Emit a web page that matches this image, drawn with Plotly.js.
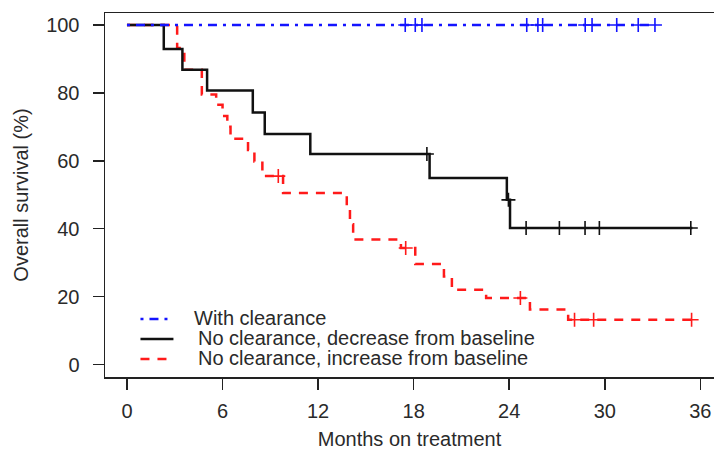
<!DOCTYPE html>
<html>
<head>
<meta charset="utf-8">
<script src="https://cdn.plot.ly/plotly-3.0.1.min.js"></script>
<style>html,body{margin:0;padding:0;background:#fff;}#chart{width:714px;height:450px;}</style>
</head>
<body>
<div id="chart"></div>
<script>
// ---- data (months, overall survival %) ----
const xTicks = [0, 6, 12, 18, 24, 30, 36];
const yTicks = [0, 20, 40, 60, 80, 100];

const seriesNames = ["With clearance", "No clearance, decrease from baseline", "No clearance, increase from baseline"];

// With clearance: no events
const blueEventTimes = [];
const blueEventValues = [];
const blueCensor = [17.47, 18.1, 18.52, 25.1, 25.8, 26.1, 28.77, 29.2, 30.75, 32.1, 33.15];
const blueEnd = 33.15;

// No clearance, decrease from baseline
const blackEventTimes = [2.31, 3.48, 5.03, 7.9, 8.65, 11.51, 19.0, 23.85, 24.05];
const blackEventValues = [92.9, 86.8, 80.7, 74.2, 67.9, 62.0, 54.9, 48.5, 40.2];
const blackCensor = [18.83, 23.95, 25.06, 27.15, 28.76, 29.66, 35.4];
const blackEnd = 35.5;

// No clearance, increase from baseline
const redEventTimes = [3.15, 3.6, 4.7, 5.6, 6.0, 6.3, 6.5, 7.6, 8.0, 8.5, 9.8, 13.8, 14.0, 14.2, 17.2, 18.1, 19.9, 20.4, 22.55, 25.3, 27.7];
const redEventValues = [93.2, 86.8, 79.5, 76.5, 73.2, 70.0, 66.5, 63.2, 59.8, 55.5, 50.5, 45.9, 41.3, 36.8, 34.3, 29.6, 25.9, 22.0, 19.6, 16.2, 13.2];
const redCensor = [9.5, 17.5, 24.7, 28.1, 29.3, 35.45];
const redEnd = 35.55;

// ---- helpers ----
function stepXY(times, vals, end) {
  const last = vals.length ? vals[vals.length - 1] : 100;
  return { x: [0].concat(times, [end]), y: [100].concat(vals, [last]) };
}
function survAt(times, vals, t) {
  let v = 100;
  for (let i = 0; i < times.length; i++) if (times[i] <= t) v = vals[i];
  return v;
}

const colors = { blue: "#1414ff", black: "#111111", red: "#ff1a1a" };
const dashes = { blue: "3px,6px,9px,6px", black: "solid", red: "9px,8px" };

function curve(times, vals, end, censor, col, name) {
  const s = stepXY(times, vals, end);
  return [
    { type: "scatter", mode: "lines", x: s.x, y: s.y, name: name, showlegend: false,
      line: { shape: "hv", color: colors[col], width: 2.5, dash: dashes[col] }, hoverinfo: "skip" },
    { type: "scatter", mode: "markers", x: censor, y: censor.map(t => survAt(times, vals, t)),
      showlegend: false, name: name + " (censored)",
      marker: { symbol: "cross-thin-open", size: 10, color: colors[col], line: { color: colors[col], width: 1.6 } } }
  ];
}

const data = [].concat(
  curve(redEventTimes, redEventValues, redEnd, redCensor, "red", seriesNames[2]),
  curve(blackEventTimes, blackEventValues, blackEnd, blackCensor, "black", seriesNames[1]),
  curve(blueEventTimes, blueEventValues, blueEnd, blueCensor, "blue", seriesNames[0])
);

// ---- layout geometry (pixels) ----
const W = 714, H = 450;
const mL = 104.5, mR = 0, mT = 13, mB = 72.5;
const pw = W - mL - mR, ph = H - mT - mB;
const px2x = p => (p - mL) / pw;
const py2y = p => (H - mB - p) / ph;

const fontFam = "Liberation Sans, Arial, Helvetica, sans-serif";
const txtCol = "#2a2a2a";

// manual legend (R style, tight rows)
const legendRows = [
  { col: "blue", y: 318.5 },
  { col: "black", y: 338.5 },
  { col: "red", y: 358.5 }
];
const legendTextX = [192, 196, 196];
const shapes = legendRows.map(r => ({
  type: "line", xref: "paper", yref: "paper",
  x0: px2x(140), x1: px2x(r.col === "black" ? 173 : 170), y0: py2y(r.y + 1), y1: py2y(r.y + 1),
  line: { color: colors[r.col], width: 2.5, dash: dashes[r.col] }
}));
const annotations = legendRows.map((r, i) => ({
  xref: "paper", yref: "paper", x: px2x(legendTextX[i]), y: py2y(r.y),
  xanchor: "left", yanchor: "middle", showarrow: false,
  text: seriesNames[i], font: { family: fontFam, size: 20, color: txtCol }
}));

const layout = {
  width: W, height: H,
  margin: { l: mL, r: mR, t: mT, b: mB, pad: 0 },
  paper_bgcolor: "#ffffff", plot_bgcolor: "#ffffff",
  showlegend: false,
  font: { family: fontFam, color: txtCol },
  xaxis: {
    range: [(mL - 126.5) / 15.94, (W - 126.5) / 15.94],
    tickvals: xTicks, ticktext: xTicks.map(String),
    ticks: "outside", ticklen: 11, tickwidth: 1.5, tickcolor: "#222",
    showline: true, linecolor: "#222", linewidth: 1.5, mirror: true,
    showgrid: false, zeroline: false,
    tickfont: { family: fontFam, size: 20, color: txtCol },
    ticklabelstandoff: 4,
    title: { text: "Months on treatment", font: { family: fontFam, size: 20, color: txtCol }, standoff: 12 }
  },
  yaxis: {
    range: [-(H - mB - 365) / 3.4, (365 - mT) / 3.4],
    tickvals: yTicks, ticktext: yTicks.map(String),
    ticks: "outside", ticklen: 11, tickwidth: 1.5, tickcolor: "#222",
    showline: true, linecolor: "#222", linewidth: 1.5, mirror: false,
    showgrid: false, zeroline: false,
    tickfont: { family: fontFam, size: 20, color: txtCol },
    ticklabelstandoff: 9,
    title: { text: "Overall survival (%)", font: { family: fontFam, size: 20, color: txtCol }, standoff: 12 }
  },
  shapes: shapes,
  annotations: annotations
};

Plotly.newPlot("chart", data, layout, { displayModeBar: false, staticPlot: true });
</script>
</body>
</html>
